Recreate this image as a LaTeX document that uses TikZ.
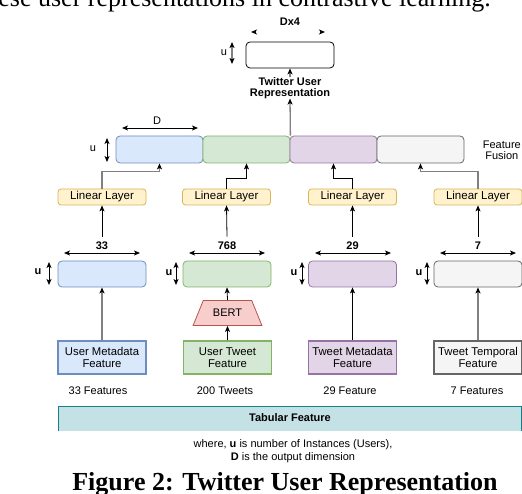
\documentclass[tikz,border=0pt]{standalone}
\usepackage{fontspec}
\setmainfont{Liberation Serif}
\setsansfont{Liberation Sans}
\usetikzlibrary{arrows.meta,shapes.geometric,calc}
\definecolor{bfill}{HTML}{DAE8FC}\definecolor{bdraw}{HTML}{6C8EBF}
\definecolor{gfill}{HTML}{D5E8D4}\definecolor{gdraw}{HTML}{82B366}
\definecolor{pfill}{HTML}{E1D5E7}\definecolor{pdraw}{HTML}{9673A6}
\definecolor{wfill}{HTML}{F5F5F5}\definecolor{wdraw}{HTML}{666666}
\definecolor{yfill}{HTML}{FFF2CC}\definecolor{ydraw}{HTML}{D6B656}
\definecolor{rfill}{HTML}{F8CECC}\definecolor{rdraw}{HTML}{B85450}
\definecolor{tfill}{HTML}{C4E1E6}\definecolor{tdraw}{HTML}{10808A}
\definecolor{arrgray}{HTML}{808080}
\tikzset{
  tip/.tip={Stealth[length=6pt,width=5pt,inset=1.5pt]},
  conn/.style={draw=black,line width=0.8pt,-tip},
  gconn/.style={draw=arrgray,line width=1.3pt,-{Stealth[length=6pt,width=5pt,inset=1.5pt,black]}},
  dim/.style={draw=black,line width=0.8pt,tip-tip},
  udim/.style={draw=black,line width=0.8pt,tip-tip},
  seg/.style={draw=#1draw,fill=#1fill,rounded corners=4pt,minimum width=87pt,minimum height=27pt,inner sep=0pt,line width=0.8pt},
  featbox/.style={draw=#1draw,fill=#1fill,rounded corners=4pt,minimum width=88pt,minimum height=26pt,inner sep=0pt,line width=0.8pt},
  inbox/.style={draw=#1draw,fill=#1fill,minimum width=88pt,minimum height=33pt,inner sep=1pt,line width=1.6pt,align=center,font=\sffamily\fontsize{11.3}{12}\selectfont},
  linbox/.style={draw=ydraw,fill=yfill,rounded corners=3pt,minimum width=88pt,minimum height=16pt,inner sep=0pt,line width=0.8pt,font=\sffamily\fontsize{11.5}{13}\selectfont},
  lbl/.style={inner sep=0pt},
  blbl/.style={inner sep=0pt,font=\sffamily\bfseries\fontsize{11}{11}\selectfont},
}
\begin{document}
\begin{tikzpicture}[x=1pt,y=-1pt,font=\sffamily\fontsize{11}{13}\selectfont]
\useasboundingbox (0,0) rectangle (522,494);
% surrounding paper text
\node[anchor=base east,inner sep=0pt,font=\rmfamily\fontsize{26}{27}\selectfont] (toptext) at (491,7) {these user representations in contrastive learning.};
\node[anchor=base,inner sep=0pt,font=\rmfamily\bfseries\fontsize{26}{27}\selectfont] (caption) at (285,490) {Figure 2: Twitter User Representation};

% top output box
\node[draw=black,fill=white,rounded corners=4pt,minimum width=88pt,minimum height=26pt,inner sep=0pt,line width=0.8pt] (out) at (290,55) {};
\node[blbl] (dxf) at (290,22) {Dx4};
\coordinate (dxl) at (251,32);
\coordinate (dxr) at (325,32);
\draw[draw=white,line width=0.8pt,{Stealth[length=6pt,width=5pt,inset=1.5pt,black]}-{Stealth[length=6pt,width=5pt,inset=1.5pt,black]}] (dxl) -- (dxr);
\coordinate (ou1) at (232,42);
\coordinate (ou2) at (232,64);
\draw[draw=arrgray,line width=1.3pt,{Stealth[length=6pt,width=5pt,inset=1.5pt,black]}-{Stealth[length=6pt,width=5pt,inset=1.5pt,black]}] (ou1) -- (ou2);
\node[lbl] (outu) at (224,53) {u};
\node[blbl,align=center,font=\sffamily\bfseries\fontsize{11}{10.5}\selectfont] (trep) at (290,88) {Twitter User\\Representation};

% fusion bar
\node[seg=b] (f1) at (159.5,149.5) {};
\node[seg=g] (f2) at (246.5,149.5) {};
\node[seg=p] (f3) at (333.5,149.5) {};
\node[seg=w] (f4) at (420.5,149.5) {};
\node[lbl] (dlab) at (157,121) {D};
\coordinate (dl) at (122,128);
\coordinate (dr) at (198,128);
\draw[dim] (dl) -- (dr);
\coordinate (fu1) at (107,138);
\coordinate (fu2) at (107,162);
\draw[udim] (fu1) -- (fu2);
\node[lbl] (fulab) at (93,149) {u};
\node[lbl,align=center,font=\sffamily\fontsize{11}{11}\selectfont,anchor=east] (fusion) at (521,150) {Feature\\Fusion};

\draw[gconn] (f2.north east) -- (trep.south);
\draw[gconn] (trep.north) -- (out.south);

% linear layers
\node[linbox] (l1) at (102,197) {Linear Layer};
\node[linbox] (l2) at (226.5,197) {Linear Layer};
\node[linbox] (l3) at (352.5,197) {Linear Layer};
\node[linbox] (l4) at (478,197) {Linear Layer};

\draw[gconn] (l1.north) -- ++(0,-17) -| (f1.south);
\draw[conn] (l2.north) -- ++(0,-10) -| (f2.south);
\draw[conn] (l3.north) -- ++(0,-10) -| (f3.south);
\draw[gconn] (l4.north) -- ++(0,-17) -| (f4.south);

% numbers
\node[blbl,outer sep=5pt] (n1) at (102,245.5) {33};
\node[blbl,outer sep=5pt] (n2) at (227,245.5) {768};
\node[blbl,outer sep=5pt] (n3) at (352.5,245.5) {29};
\node[blbl,outer sep=5pt] (n4) at (478,245.5) {7};
\draw[conn] (n1.north) -- (l1.south);
\draw[conn] (n2.north) -- (l2.south);
\draw[conn] (n3.north) -- (l3.south);
\draw[conn] (n4.north) -- (l4.south);

\coordinate (w1l) at (64,253); \coordinate (w1r) at (140,253);
\coordinate (w2l) at (189,253); \coordinate (w2r) at (265,253);
\coordinate (w3l) at (315,253); \coordinate (w3r) at (391,253);
\coordinate (w4l) at (440,253); \coordinate (w4r) at (516,253);
\draw[dim] (w1l) -- (w1r);
\draw[dim] (w2l) -- (w2r);
\draw[dim] (w3l) -- (w3r);
\draw[dim] (w4l) -- (w4r);

% feature boxes
\node[featbox=b] (e1) at (102,274) {};
\node[featbox=g] (e2) at (227,274) {};
\node[featbox=p] (e3) at (352.5,274) {};
\node[featbox=w] (e4) at (478,274) {};

\coordinate (u1t) at (49,262); \coordinate (u1b) at (49,285);
\coordinate (u2t) at (176,262); \coordinate (u2b) at (176,285);
\coordinate (u3t) at (302,262); \coordinate (u3b) at (302,285);
\coordinate (u4t) at (427,262); \coordinate (u4b) at (427,285);
\draw[udim] (u1t) -- (u1b);
\draw[udim] (u2t) -- (u2b);
\draw[udim] (u3t) -- (u3b);
\draw[udim] (u4t) -- (u4b);
\node[blbl] (ul1) at (38,272) {u};
\node[blbl] (ul2) at (169,273) {u};
\node[blbl] (ul3) at (294,273) {u};
\node[blbl] (ul4) at (419,273) {u};

% BERT
\node[trapezium,trapezium stretches=true,trapezium angle=51,draw=rdraw,fill=rfill,minimum width=69pt,minimum height=25pt,inner sep=0pt,line width=0.8pt] (bert) at (227.5,313) {BERT};

% inputs
\node[inbox=b] (i1) at (102,357.5) {User Metadata\\Feature};
\node[inbox=g] (i2) at (227.5,357.5) {User Tweet\\Feature};
\node[inbox=p] (i3) at (352.5,357.5) {Tweet Metadata\\Feature};
\node[inbox=w] (i4) at (478,357.5) {Tweet Temporal\\Feature};

\draw[gconn] (i1.north) -- (e1.south);
\draw[conn] (i2.north) -- (bert.south);
\draw[conn] (bert.north) -- (e2.south);
\draw[conn] (i3.north) -- (e3.south);
\draw[gconn] (i4.north) -- (e4.south);

\node[lbl] (c1) at (98,391) {33 Features};
\node[lbl] (c2) at (225,391) {200 Tweets};
\node[lbl] (c3) at (350,391) {29 Feature};
\node[lbl] (c4) at (477,391) {7 Features};

% tabular
\fill[tfill] (58,406) rectangle (521.5,431);
\draw[tdraw,line width=0.9pt] (58,431) -- (58,406) -- (521.5,406) -- (521.5,431);
\node[blbl] (tab) at (290,418) {Tabular Feature};

\node[lbl,align=center,font=\sffamily\fontsize{11}{13}\selectfont] (note) at (293,451.5) {where, \textbf{u} is number of Instances (Users),\\\textbf{D} is the output dimension};
\end{tikzpicture}
\end{document}
